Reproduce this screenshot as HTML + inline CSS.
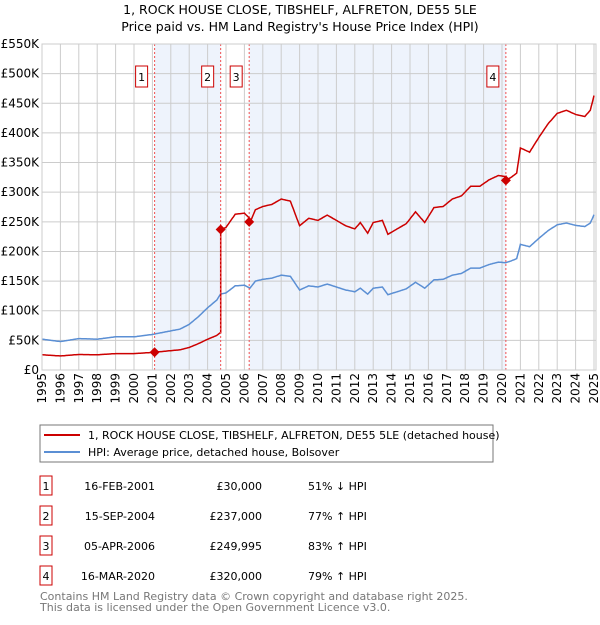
<!DOCTYPE html>
<html><head><meta charset="utf-8"><style>
body{margin:0;width:600px;height:620px;background:#fff;font-family:"Liberation Sans","DejaVu Sans",sans-serif;overflow:hidden}
svg text{font-family:"DejaVu Sans","Liberation Sans",sans-serif}
</style></head><body>
<svg id="chart" width="600" height="620" xmlns="http://www.w3.org/2000/svg">
<text x="300" y="14" text-anchor="middle" font-size="12.5" fill="#000">1, ROCK HOUSE CLOSE, TIBSHELF, ALFRETON, DE55 5LE</text>
<text x="300" y="31" text-anchor="middle" font-size="12.5" fill="#000">Price paid vs. HM Land Registry's House Price Index (HPI)</text>
<g id="bg"></g><g id="grid"></g><g id="series"></g><g id="axes"></g>
<g>
<rect x="40" y="425" width="453" height="37" fill="#fff" stroke="#777"/>
<line x1="44" y1="435" x2="80" y2="435" stroke="#cc0000" stroke-width="2"/>
<text x="88" y="439" font-size="11">1, ROCK HOUSE CLOSE, TIBSHELF, ALFRETON, DE55 5LE (detached house)</text>
<line x1="44" y1="452" x2="80" y2="452" stroke="#5b8fd4" stroke-width="2"/>
<text x="88" y="456" font-size="11">HPI: Average price, detached house, Bolsover</text>
</g>
<g id="table" font-size="11"></g>
<text x="40" y="600" font-size="11" fill="#777">Contains HM Land Registry data © Crown copyright and database right 2025.</text>
<text x="40" y="611" font-size="11" fill="#777">This data is licensed under the Open Government Licence v3.0.</text>
</svg>
<script>
const hpiYears=[1995,1996,1997,1998,1999,2000,2001,2001.5,2002,2002.5,2003,2003.5,2004,2004.5,2004.7,2005,2005.5,2006,2006.3,2006.6,2007,2007.5,2008,2008.5,2009,2009.5,2010,2010.5,2011,2011.5,2012,2012.3,2012.7,2013,2013.5,2013.8,2014.3,2014.8,2015.3,2015.8,2016.3,2016.8,2017.3,2017.8,2018.3,2018.8,2019.3,2019.8,2020.2,2020.5,2020.8,2021,2021.5,2022,2022.5,2023,2023.5,2024,2024.5,2024.8,2025];
const hpiValues=[52,48,53,52,56,56,60,63,66,69,77,90,105,118,128,130,142,143,138,150,153,155,160,158,135,142,140,145,140,135,132,138,128,138,140,127,132,137,148,138,152,153,160,163,172,172,178,182,181,184,188,212,208,222,235,245,248,244,242,248,262];
const saleYears=[2001.12,2004.71,2006.26,2020.21];
const salePrices=[30000,237000,249995,320000];
const saleDates=["16-FEB-2001","15-SEP-2004","05-APR-2006","16-MAR-2020"];
const salePriceLabels=["£30,000","£237,000","£249,995","£320,000"];
const saleHpiLabels=["51% ↓ HPI","77% ↑ HPI","83% ↑ HPI","79% ↑ HPI"];
const yTicks=[0,50,100,150,200,250,300,350,400,450,500,550];
const xTicks=[1995,1996,1997,1998,1999,2000,2001,2002,2003,2004,2005,2006,2007,2008,2009,2010,2011,2012,2013,2014,2015,2016,2017,2018,2019,2020,2021,2022,2023,2024,2025];

const NS="http://www.w3.org/2000/svg";
const X0=42,X1=594,Y0=370,Y1=44;
const x=y=>X0+(y-1995)/30*(X1-X0);
const yv=v=>Y0-v/550*(Y0-Y1);
function mk(p,t,a){const e=document.createElementNS(NS,t);for(const k in a)e.setAttribute(k,a[k]);p.appendChild(e);return e;}
function hpiAt(t){for(let i=1;i<hpiYears.length;i++){if(t<=hpiYears[i]){const f=(t-hpiYears[i-1])/(hpiYears[i]-hpiYears[i-1]);return hpiValues[i-1]+f*(hpiValues[i]-hpiValues[i-1]);}}return hpiValues[hpiValues.length-1];}
const bg=document.getElementById('bg'),grid=document.getElementById('grid'),ser=document.getElementById('series'),ax=document.getElementById('axes'),tb=document.getElementById('table');
const r0=mk(bg,'rect',{x:X0,y:Y1,width:X1-X0+2,height:Y0-Y1,fill:'#fff'});


[[0,1],[2,3]].forEach(([a,b])=>{const r=mk(bg,'rect',{x:x(saleYears[a]),y:Y1,width:x(saleYears[b])-x(saleYears[a]),height:Y0-Y1,fill:'#eef3fc'});

});
yTicks.forEach(v=>{const l=mk(grid,'line',{x1:X0,x2:X1+2,y1:yv(v),y2:yv(v),stroke:'#ccc','stroke-width':1});


const t=mk(ax,'text',{x:X0-3,y:yv(v)+4,'text-anchor':'end','font-size':12});t.textContent=v===0?'£0':'£'+v+'K';

});
xTicks.forEach(yr=>{const l=mk(grid,'line',{x1:x(yr),x2:x(yr),y1:Y1,y2:Y0,stroke:'#ccc','stroke-width':1});


const t=mk(ax,'text',{transform:`translate(${x(yr)+4},${Y0+3}) rotate(-90)`,'text-anchor':'end','font-size':12});t.textContent=yr;

});
let pts=[];for(let t=1995;t<=2025.001;t+=0.05)pts.push(x(t).toFixed(1)+','+yv(hpiAt(t)).toFixed(1));
const hl=mk(ser,'polyline',{points:pts.join(' '),fill:'none',stroke:'#5b8fd4','stroke-width':1.5});


let rp=[];for(let t=1995;t<=2025.001;t+=0.05){let k=0;for(let i=0;i<saleYears.length;i++)if(t>=saleYears[i])k=i;
const ratio=salePrices[k]/1000/hpiAt(saleYears[k]);
rp.push(x(t).toFixed(1)+','+yv(hpiAt(t)*ratio).toFixed(1));
for(let i=1;i<saleYears.length;i++){if(t<saleYears[i]&&t+0.05>=saleYears[i]){rp.push(x(saleYears[i]).toFixed(1)+','+yv(hpiAt(saleYears[i])*ratio).toFixed(1));rp.push(x(saleYears[i]).toFixed(1)+','+yv(salePrices[i]/1000).toFixed(1));}}}
const pl=mk(ser,'polyline',{points:rp.join(' '),fill:'none',stroke:'#cc0000','stroke-width':1.5});


saleYears.forEach((s,i)=>{const d=mk(ser,'line',{x1:x(s),x2:x(s),y1:Y1,y2:Y0,stroke:'#f05050','stroke-width':1,'stroke-dasharray':'2,2'});


const cx=x(s),cy=yv(salePrices[i]/1000);
const m=mk(ser,'polygon',{points:`${cx},${cy-5} ${cx+5},${cy} ${cx},${cy+5} ${cx-5},${cy}`,fill:'#cc0000'});


const bx=mk(ser,'rect',{x:cx-19,y:66,width:12,height:21,fill:'#fff',stroke:'#cc0000'});


const t=mk(ser,'text',{x:cx-13,y:81,'text-anchor':'middle','font-size':11});t.textContent=i+1;


const ry=476+i*30;
const tr=mk(tb,'rect',{x:40,y:ry,width:12,height:19,fill:'#fff',stroke:'#cc0000'});


[[46,'middle',String(i+1)],[155,'end',saleDates[i]],[262,'end',salePriceLabels[i]],[308,'start',saleHpiLabels[i]]].forEach(([tx,an,txt])=>{const e=mk(tb,'text',{x:tx,y:ry+14,'text-anchor':an,'font-size':11});e.textContent=txt;

});});
const fr=mk(ax,'rect',{x:X0,y:Y1,width:X1-X0+2,height:Y0-Y1,fill:'none',stroke:'#ccc'});


</script>
</body></html>
